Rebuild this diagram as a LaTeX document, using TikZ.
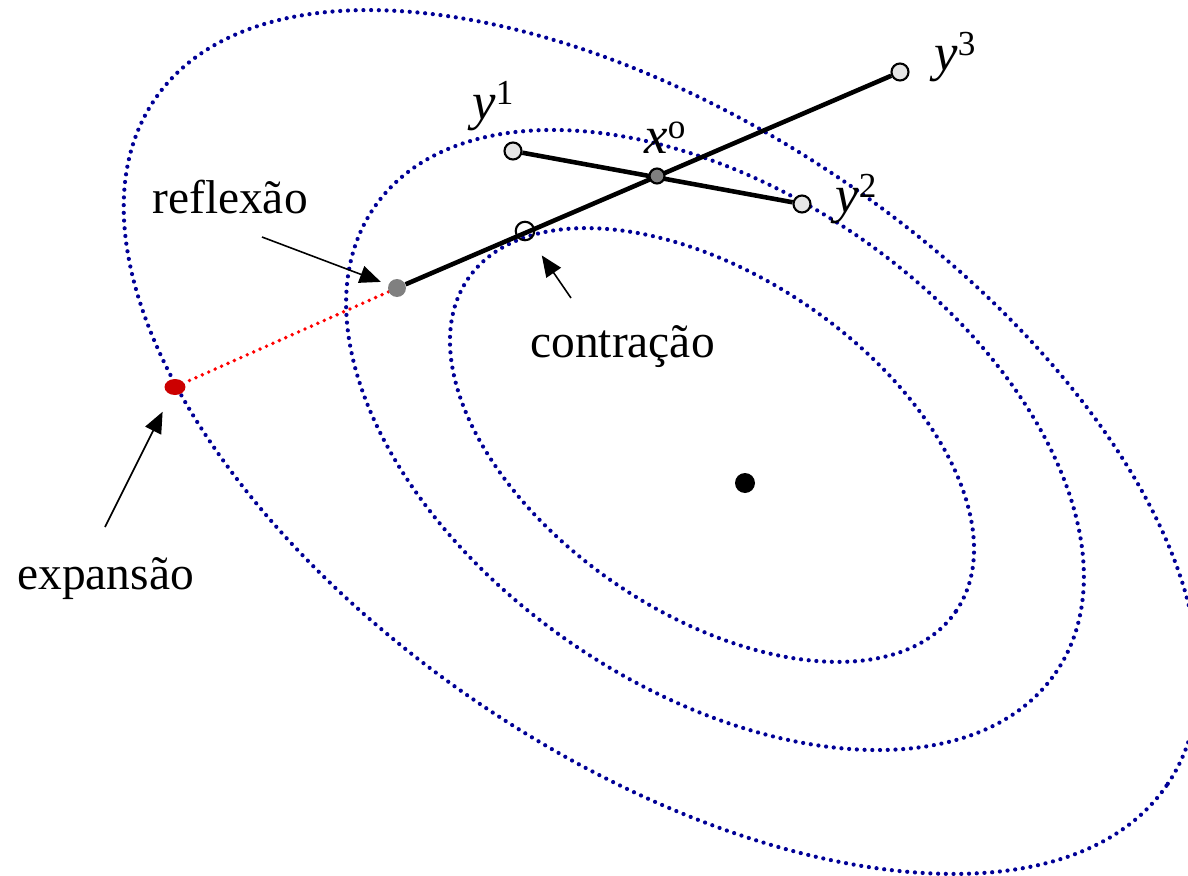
\documentclass[tikz,border=0pt]{standalone}
\usepackage{fontspec}
\setmainfont{Liberation Serif}
\usetikzlibrary{positioning, arrows.meta, shapes.geometric, backgrounds}
\definecolor{contourblue}{RGB}{0,0,150}
\definecolor{expred}{RGB}{204,0,0}
\newcommand{\vlab}[2]{\textit{#1}\raisebox{8.5pt}{\fontsize{20}{20}\selectfont #2}}

\begin{document}
\begin{tikzpicture}[
  x=0.02cm, y=-0.02cm,
  contour/.style={contourblue, line width=2.4pt, line cap=round, dash pattern=on 0pt off 4.4pt},
  vertex/.style={circle, draw, line width=1.2pt, fill=gray!20, minimum size=0.34cm, inner sep=0pt},
  centroid/.style={vertex, fill=gray, minimum size=0.3cm},
  trial/.style={circle, inner sep=0pt, minimum size=0.36cm},
  simplex/.style={line width=2.6pt},
  arrow/.style={-{Triangle[length=12pt, width=10pt]}, line width=0.9pt},
  lbl/.style={font=\fontsize{27}{32}\selectfont, inner sep=0pt, anchor=base west},
  var/.style={font=\fontsize{30}{34}\selectfont, inner sep=0pt, anchor=base west}
]
  \path[use as bounding box] (0,0) rectangle (1188,876);

  % simplex points
  \node[vertex] (y1) at (513,151) {};
  \node[vertex] (y2) at (802,204) {};
  \node[vertex] (y3) at (900,72) {};
  \node[centroid] (x0) at (657,176) {};
  \node[trial, fill=gray] (refl) at (397,288) {};
  \node[trial, draw, line width=1.2pt, minimum size=0.37cm] (cont) at (525,231) {};
  \node[ellipse, fill=expred, inner sep=0pt, minimum width=0.42cm, minimum height=0.32cm] (exp) at (175,387) {};
  \node[circle, fill=black, inner sep=0pt, minimum size=0.4cm] (opt) at (745,483) {};

  \begin{scope}[on background layer]
    \draw[contour, rotate around={-34.2:(712,445)}] (712,445) ellipse [x radius=5.906cm, y radius=3.378cm];
    \draw[contour, rotate around={-34.2:(715,440)}] (715,440) ellipse [x radius=8.254cm, y radius=4.977cm];
    \draw[contour, rotate around={-34:(661,442)}] (661,442) ellipse [x radius=12.228cm, y radius=6.37cm];
    \draw[red, line width=2.2pt, line cap=round, dash pattern=on 0pt off 4pt] (refl) -- (exp);
    \draw[simplex] (y3) -- (refl);
    \draw[simplex] (y1) -- (y2);
  \end{scope}

  % labels
  \node[var] (y1Lbl) at (472,119) {\vlab{y}{1}};
  \node[var] (y2Lbl) at (835,212) {\vlab{y}{2}};
  \node[var] (y3Lbl) at (934,70) {\vlab{y}{3}};
  \node[var] (x0Lbl) at (644,153) {\vlab{x}{o}};
  \node[lbl] (reflLbl) at (152,213) {reflexão};
  \node[lbl] (contLbl) at (530,357) {contração};
  \node[lbl] (expLbl) at (17,589) {expansão};

  \coordinate (reflTail) at (262,237);
  \coordinate (contTail) at (571,298);
  \coordinate (expTail) at (105,527);
  \draw[arrow, shorten >=4.5pt] (reflTail) -- (refl);
  \draw[arrow, shorten >=11pt] (contTail) -- (cont);
  \draw[arrow, shorten >=10.8pt] (expTail) -- (exp);
\end{tikzpicture}
\end{document}
